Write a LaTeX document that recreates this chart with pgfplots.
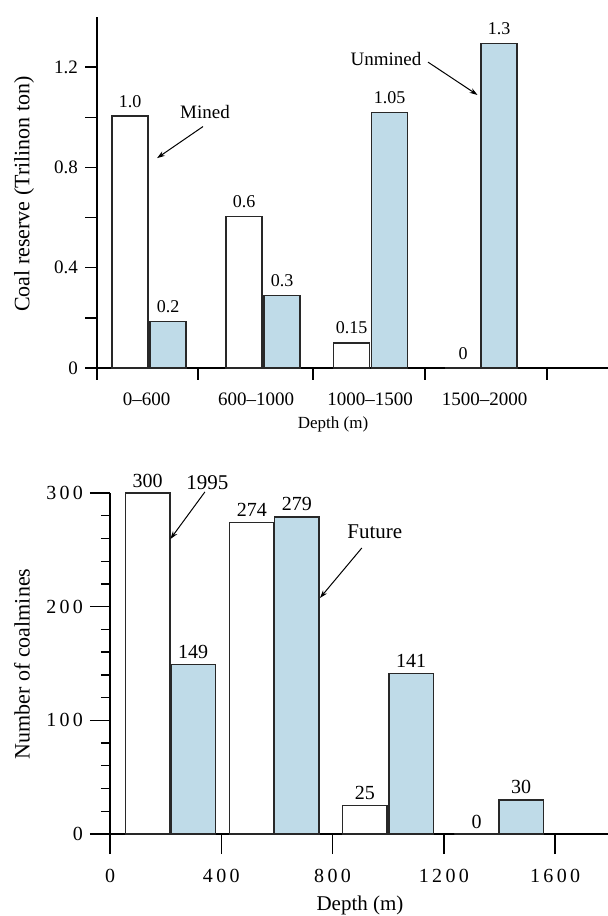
\documentclass[border=0pt]{standalone}
\usepackage{fontspec}
\setmainfont{Liberation Serif}
\usepackage{pgfplots}
\pgfplotsset{compat=1.18}
\usetikzlibrary{arrows.meta}
\definecolor{barblue}{RGB}{191,219,232}
\definecolor{baredge}{RGB}{40,40,40}
\begin{document}
\begin{tikzpicture}
\useasboundingbox (0pt,0pt) rectangle (304pt,458pt);
% ---------------- top chart ----------------
\begin{axis}[
  at={(48.5pt,274pt)}, anchor=south west,
  scale only axis, width=255.5pt, height=175.5pt,
  xmin=97, xmax=608, ymin=0, ymax=1.40,
  axis x line=bottom, axis y line=left,
  axis line style={-, line width=0.65pt, black},
  tick align=outside, major tick length=6pt, minor tick length=6pt,
  every tick/.style={black, line width=0.65pt},
  ytick={0,0.4,0.8,1.2}, yticklabels={0,0.4,0.8,1.2},
  minor ytick={0.2,0.6,1.0},
  xtick={97,198,313,425,547}, xticklabels={},
  extra x ticks={146.5,256,370,484.5},
  extra x tick labels={0--600,600--1000,1000--1500,1500--2000},
  extra x tick style={major tick length=0pt, tick label style={yshift=-9pt}},
  tick label style={font=\fontsize{9.5}{11}\selectfont},
  ybar, bar width=36,
  nodes near coords, point meta=explicit symbolic,
  every node near coord/.append style={font=\fontsize{9}{10}\selectfont, anchor=south, inner sep=1pt, yshift=3pt},
  clip=false,
]
\addplot[bar shift=0pt, draw=baredge, fill=white, line width=0.75pt]
  coordinates {(130,1.005) [1.0] (244,0.605) [0.6] (351.5,0.10) [0.15] (463,0) [0]};
\addplot[bar shift=0pt, draw=baredge, fill=barblue, line width=0.75pt]
  coordinates {(168,0.185) [0.2] (282,0.29) [0.3] (389.5,1.02) [1.05] (499,1.295) [1.3]};
\node[font=\fontsize{9.5}{11}\selectfont] at (axis cs:205,1.021) {Mined};
\draw[-{Stealth[length=4pt,width=2.6pt]}, line width=0.5pt] (axis cs:203,0.963) -- (axis cs:157,0.837);
\node[font=\fontsize{9.5}{11}\selectfont] at (axis cs:386,1.234) {Unmined};
\draw[-{Stealth[length=4pt,width=2.6pt]}, line width=0.5pt] (axis cs:428,1.22) -- (axis cs:477.5,1.089);
\end{axis}
% ---------------- bottom chart ----------------
\begin{axis}[
  at={(55pt,41pt)}, anchor=south west,
  scale only axis, width=249pt, height=170.5pt,
  xmin=0, xmax=1790, ymin=0, ymax=300,
  axis x line=bottom, axis y line=left,
  axis line style={-, line width=0.65pt, black},
  tick align=outside, major tick length=10pt, minor tick length=4.5pt,
  every tick/.style={black, line width=0.65pt},
  xtick={0,400,800,1200,1600}, xticklabels={0,4\,0\,0,8\,0\,0,1\,2\,0\,0,1\,6\,0\,0},
  ytick={0,100,200,300}, yticklabels={0,1\,0\,0,2\,0\,0,3\,0\,0},
  minor y tick num=4,
  tick label style={font=\fontsize{10}{12}\selectfont},
  x tick label style={yshift=-4pt},
  ybar, bar width=160,
  nodes near coords, point meta=explicit symbolic,
  every node near coord/.append style={font=\fontsize{10}{12}\selectfont, anchor=south, inner sep=1pt, yshift=1.5pt},
  clip=false,
]
\addplot[bar shift=0pt, draw=baredge, fill=white, line width=0.75pt]
  coordinates {(135,300) [300] (510,274) [274] (916,25) [25] (1318,0) [0]};
\addplot[bar shift=0pt, draw=baredge, fill=barblue, line width=0.75pt]
  coordinates {(299,149) [149] (672,279) [279] (1082,141) [141] (1478,30) [30]};
\node[font=\fontsize{10.5}{12}\selectfont] at (axis cs:350,308.8) {1995};
\draw[-{Stealth[length=4pt,width=2.6pt]}, line width=0.5pt] (axis cs:341,300.9) -- (axis cs:217,259.5);
\node[font=\fontsize{10.5}{12}\selectfont] at (axis cs:952,265.7) {Future};
\draw[-{Stealth[length=4pt,width=2.6pt]}, line width=0.5pt] (axis cs:905,251.6) -- (axis cs:754.6,207.6);
\end{axis}
% axis titles
\node[rotate=90, font=\fontsize{11}{13}\selectfont] at (12pt,361pt) {Coal reserve (Trilinon ton)};
\node[font=\fontsize{8.5}{10}\selectfont] at (166.5pt,246pt) {Depth (m)};
\node[rotate=90, font=\fontsize{11}{13}\selectfont] at (11pt,126pt) {Number of coalmines};
\node[font=\fontsize{10.5}{12}\selectfont] at (180pt,5.5pt) {Depth (m)};
\end{tikzpicture}
\end{document}
